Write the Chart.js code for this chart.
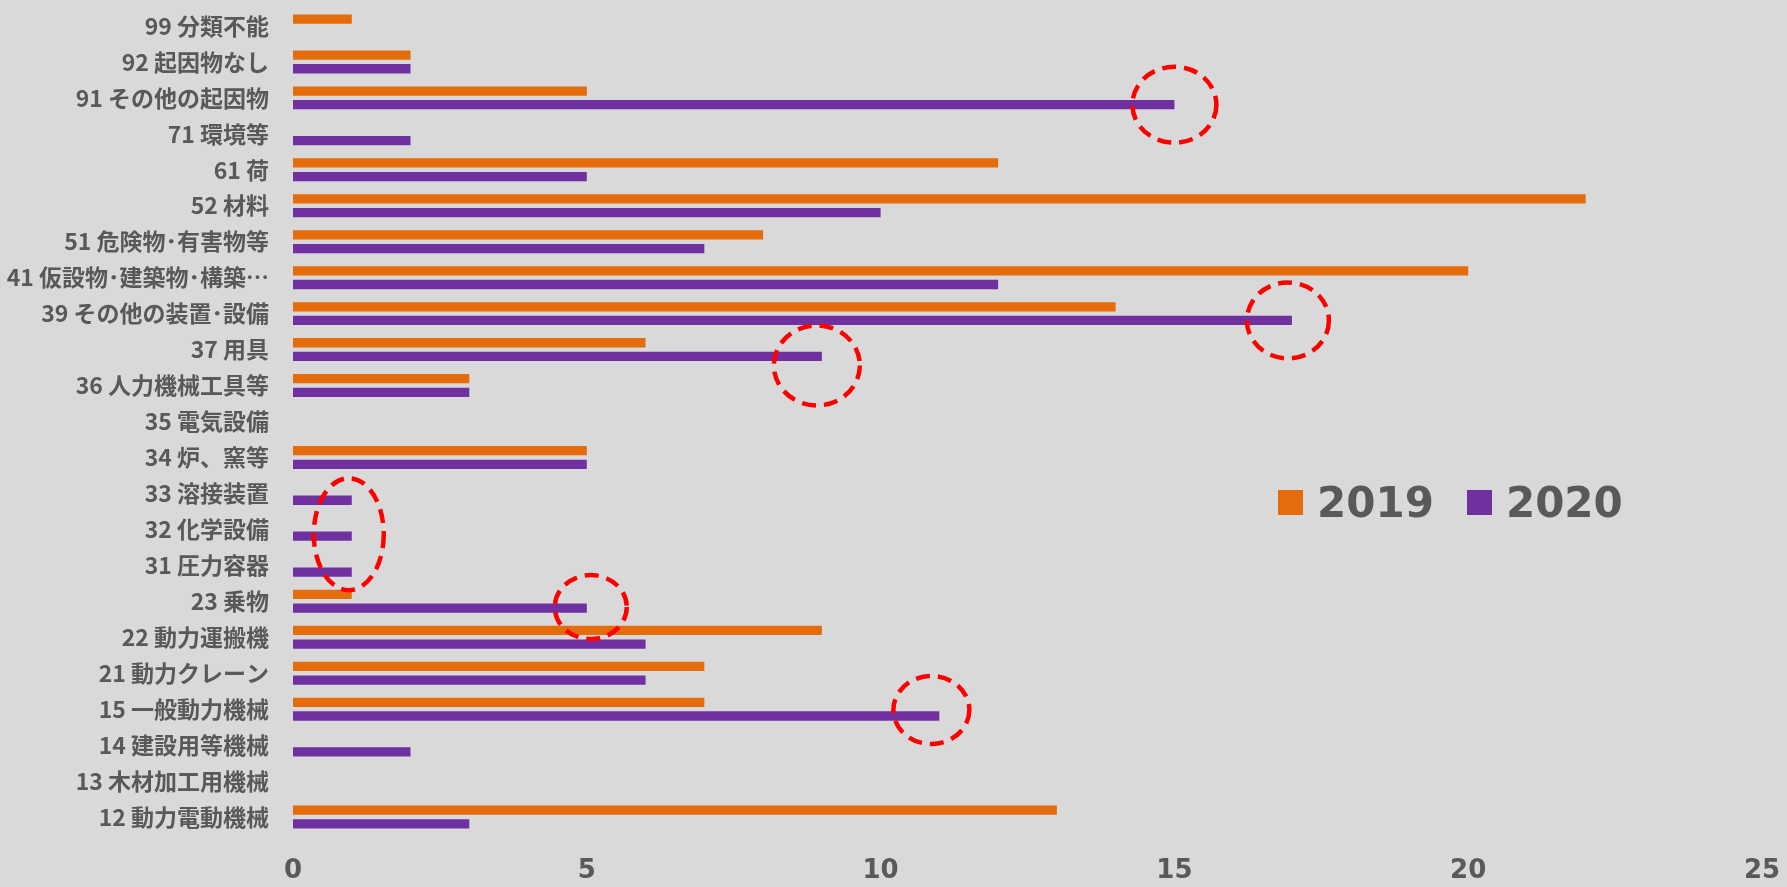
<!DOCTYPE html>
<html lang="ja">
<head>
<meta charset="utf-8">
<title>起因物別 件数 2019・2020</title>
<script src="https://cdn.jsdelivr.net/npm/chart.js@4.4.1/dist/chart.umd.min.js"></script>
<style>
  html, body { margin: 0; padding: 0; background: #d9d9d9; }
  #wrap { position: relative; width: 1787px; height: 887px; }
  #legend { position: absolute; left: 1278px; top: 478px; display: flex; align-items: center;
            font-family: "DejaVu Sans", sans-serif; font-weight: bold; font-size: 42px; color: #595959; }
  #legend .item { display: flex; align-items: center; margin-right: 33px; }
  #legend .box { width: 25px; height: 25px; margin-right: 14px; }
</style>
</head>
<body>
<div id="wrap">
  <canvas id="causeChart" width="1787" height="887"></canvas>
  <div id="legend"></div>
</div>
<script>
const categories = [
    '99 分類不能', '92 起因物なし', '91 その他の起因物', '71 環境等', '61 荷', '52 材料',
    '51 危険物･有害物等', '41 仮設物･建築物･構築…', '39 その他の装置･設備', '37 用具',
    '36 人力機械工具等', '35 電気設備', '34 炉、窯等', '33 溶接装置', '32 化学設備',
    '31 圧力容器', '23 乗物', '22 動力運搬機', '21 動力クレーン', '15 一般動力機械',
    '14 建設用等機械', '13 木材加工用機械', '12 動力電動機械'
];
const years = ['2019', '2020'];
const values2019 = [1, 2, 5, 0, 12, 22, 8, 20, 14, 6, 3, 0, 5, 0, 0, 0, 1, 9, 7, 7, 0, 0, 13];
const values2020 = [0, 2, 15, 2, 5, 10, 7, 12, 17, 9, 3, 0, 5, 1, 1, 1, 5, 6, 6, 11, 2, 0, 3];
const xTicks = [0, 5, 10, 15, 20, 25];

// 2020 bars circled in red: [first category, last category]
const highlights = [
    ['91 その他の起因物', '91 その他の起因物'],
    ['39 その他の装置･設備', '39 その他の装置･設備'],
    ['37 用具', '37 用具'],
    ['33 溶接装置', '31 圧力容器'],
    ['23 乗物', '23 乗物'],
    ['15 一般動力機械', '15 一般動力機械']
];
// ring shape for each highlight: [rx, ry, dx, dy] in px around the bar end
const ringShapes = [[42, 38, 0, 0], [41, 38, -4, 0], [43, 40, -5, 9], [35, 56, -3, -2], [36, 32, 4, -1], [38, 34, -8, -6]];

const colors = ['#e46c0a', '#7030a0'];
const textColor = '#595959';

const ringPlugin = {
    id: 'rings',
    afterDatasetsDraw(chart) {
        const ctx = chart.ctx;
        const meta = chart.getDatasetMeta(1);
        ctx.save();
        ctx.strokeStyle = '#ff0000';
        ctx.lineWidth = 4.5;
        ctx.setLineDash([14, 8]);
        highlights.forEach(([first, last], i) => {
            const a = meta.data[categories.indexOf(first)];
            const b = meta.data[categories.indexOf(last)];
            const [rx, ry, dx, dy] = ringShapes[i];
            const cx = Math.max(a.x, b.x) + dx;
            const cy = (a.y + b.y) / 2 + dy;
            ctx.beginPath();
            ctx.ellipse(cx, cy, rx, ry, 0, 0, Math.PI * 2);
            ctx.stroke();
        });
        ctx.restore();
    }
};

const ctx = document.getElementById('causeChart').getContext('2d');
const causeChart = new Chart(ctx, {
    type: 'bar',
    data: {
        labels: categories,
        datasets: [
            {
                label: years[0],
                data: values2019,
                backgroundColor: colors[0]
            },
            {
                label: years[1],
                data: values2020,
                backgroundColor: colors[1]
            }
        ]
    },
    options: {
        indexAxis: 'y',
        responsive: false,
        animation: false,
        categoryPercentage: 0.76,
        barPercentage: 0.68,
        layout: {
            padding: { top: 8, right: 25, left: 0, bottom: 0 }
        },
        plugins: {
            legend: { display: false },
            tooltip: { enabled: false }
        },
        scales: {
            x: {
                min: xTicks[0],
                max: xTicks[xTicks.length - 1],
                grid: { display: false, drawTicks: false },
                border: { display: false },
                afterBuildTicks: scale => {
                    scale.ticks = xTicks.map(v => ({ value: v }));
                },
                afterFit: scale => {
                    scale.height = 52;
                    scale.paddingLeft = 0;
                    scale.paddingRight = 0;
                },
                ticks: {
                    padding: 21,
                    color: textColor,
                    font: { family: 'DejaVu Sans', size: 26, weight: 'bold' }
                }
            },
            y: {
                grid: { display: false, drawTicks: false },
                border: { display: false },
                afterFit: scale => {
                    scale.width = 293;
                    scale.paddingTop = 0;
                    scale.paddingBottom = 0;
                },
                ticks: {
                    padding: 24,
                    autoSkip: false,
                    color: textColor,
                    font: { family: 'Noto Sans CJK JP', size: 23, weight: 'bold' }
                }
            }
        }
    },
    plugins: [ringPlugin]
});

// legend built from the chart's datasets
const legend = document.getElementById('legend');
causeChart.data.datasets.forEach(ds => {
    const item = document.createElement('div');
    item.className = 'item';
    const box = document.createElement('span');
    box.className = 'box';
    box.style.background = ds.backgroundColor;
    const label = document.createElement('span');
    label.textContent = ds.label;
    item.appendChild(box);
    item.appendChild(label);
    legend.appendChild(item);
});
</script>
</body>
</html>
